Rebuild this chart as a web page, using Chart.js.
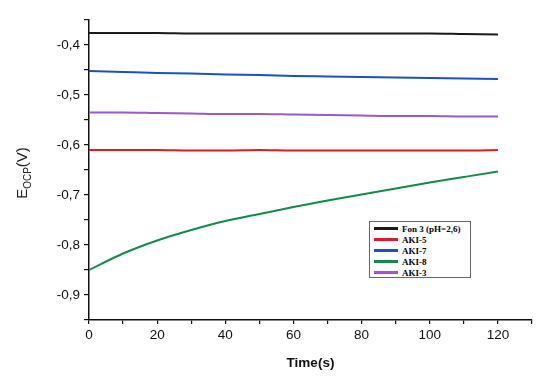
<!DOCTYPE html>
<html>
<head>
<meta charset="utf-8">
<script src="https://cdn.jsdelivr.net/npm/chart.js@4.4.1/dist/chart.umd.min.js"></script>
<style>
  body { margin: 0; background: #fff; }
  #wrap { position: relative; width: 544px; height: 383px; }
  #legend {
    position: absolute; left: 369px; top: 221px; width: 102px; height: 57px;
    border: 1px solid #666; background: #fff;
    font-family: "Liberation Serif", "Times New Roman", serif; font-weight: bold; font-size: 9px;
    padding-top: 1px; box-sizing: border-box;
  }
  .row { display: flex; align-items: center; height: 11px; }
  .sw { width: 24px; height: 3px; margin-left: 4px; margin-right: 4px; }
</style>
</head>
<body>
<div id="wrap">
  <canvas id="chart" width="544" height="383"></canvas>
  <div id="legend"></div>
</div>
<script>
const times = [0, 10, 20, 30, 40, 50, 60, 70, 80, 90, 100, 110, 120];

const fon3 = [-0.376, -0.376, -0.376, -0.377, -0.377, -0.377, -0.377, -0.377, -0.377, -0.377, -0.377, -0.378, -0.379];
const aki5 = [-0.610, -0.610, -0.610, -0.611, -0.611, -0.610, -0.611, -0.611, -0.611, -0.611, -0.611, -0.611, -0.610];
const aki7 = [-0.452, -0.454, -0.456, -0.457, -0.459, -0.460, -0.462, -0.463, -0.464, -0.465, -0.466, -0.467, -0.468];
const aki8 = [-0.850, -0.817, -0.791, -0.770, -0.752, -0.738, -0.724, -0.711, -0.699, -0.687, -0.675, -0.664, -0.653];
const aki3 = [-0.535, -0.535, -0.536, -0.537, -0.538, -0.538, -0.539, -0.540, -0.541, -0.542, -0.542, -0.543, -0.543];

const seriesNames = ["Fon 3 (pH=2,6)", "AKI-5", "AKI-7", "AKI-8", "AKI-3"];
const seriesColors = ["#1a1a1a", "#e01b24", "#1f4fc4", "#138a4a", "#9a58c8"];
const seriesData = [fon3, aki5, aki7, aki8, aki3];

const FONT = "'Liberation Sans', Arial, sans-serif";

// y-axis title with subscript, drawn by hand
const yTitlePlugin = {
  id: "yTitle",
  afterDraw(chart) {
    const ctx = chart.ctx;
    ctx.save();
    ctx.translate(27, 173);
    ctx.rotate(-Math.PI / 2);
    ctx.fillStyle = "#222";
    ctx.textBaseline = "alphabetic";
    ctx.font = "15px " + FONT;
    const w1 = ctx.measureText("E").width;
    const w3 = ctx.measureText("(V)").width;
    ctx.font = "10px " + FONT;
    const w2 = ctx.measureText("OCP").width;
    let x = -(w1 + w2 + w3) / 2;
    ctx.font = "15px " + FONT;
    ctx.fillText("E", x, 0);
    x += w1;
    ctx.font = "10px " + FONT;
    ctx.fillText("OCP", x, 4);
    x += w2;
    ctx.font = "15px " + FONT;
    ctx.fillText("(V)", x, 0);
    ctx.restore();
  }
};

new Chart(document.getElementById("chart"), {
  type: "line",
  data: {
    datasets: seriesNames.map((name, i) => ({
      label: name,
      data: times.map((t, j) => ({ x: t, y: seriesData[i][j] })),
      borderColor: seriesColors[i],
      backgroundColor: seriesColors[i],
      borderWidth: 2,
      pointRadius: 0,
      cubicInterpolationMode: "monotone",
      fill: false
    }))
  },
  options: {
    responsive: false,
    animation: false,
    layout: { padding: { top: 20, right: 12, left: 0, bottom: 12 } },
    plugins: { legend: { display: false }, tooltip: { enabled: false } },
    scales: {
      x: {
        type: "linear",
        min: 0,
        max: 130,
        afterFit(scale) { scale.height = 51; },
        border: { color: "#111", width: 1.5 },
        grid: { drawOnChartArea: false, color: "#111", tickLength: 4, lineWidth: 1.2 },
        ticks: {
          stepSize: 10,
          autoSkip: false,
          maxRotation: 0,
          color: "#111",
          padding: 3,
          font: { family: FONT, size: 13.5 },
          callback: v => (v % 20 === 0 && v <= 120 ? String(v) : "")
        },
        title: {
          display: true,
          text: "Time(s)",
          color: "#111",
          padding: { top: 4, bottom: 0 },
          font: { family: FONT, size: 13.5, weight: "bold" }
        }
      },
      y: {
        min: -0.95,
        max: -0.35,
        afterFit(scale) { scale.width = 89; },
        border: { color: "#111", width: 1.5 },
        grid: { drawOnChartArea: false, color: "#111", tickLength: 5, lineWidth: 1.2 },
        ticks: {
          stepSize: 0.05,
          autoSkip: false,
          color: "#111",
          padding: 4,
          font: { family: FONT, size: 13.5 },
          callback: v => {
            const k = Math.round(v * 100);
            if (k % 10 !== 0 || k === -100 || k === -30) return "";
            return (k / 100).toFixed(1).replace(".", ",");
          }
        }
      }
    }
  },
  plugins: [yTitlePlugin]
});

const legend = document.getElementById("legend");
seriesNames.forEach((name, i) => {
  const row = document.createElement("div");
  row.className = "row";
  const sw = document.createElement("span");
  sw.className = "sw";
  sw.style.background = seriesColors[i];
  const label = document.createElement("span");
  label.textContent = name;
  row.appendChild(sw);
  row.appendChild(label);
  legend.appendChild(row);
});
</script>
</body>
</html>
